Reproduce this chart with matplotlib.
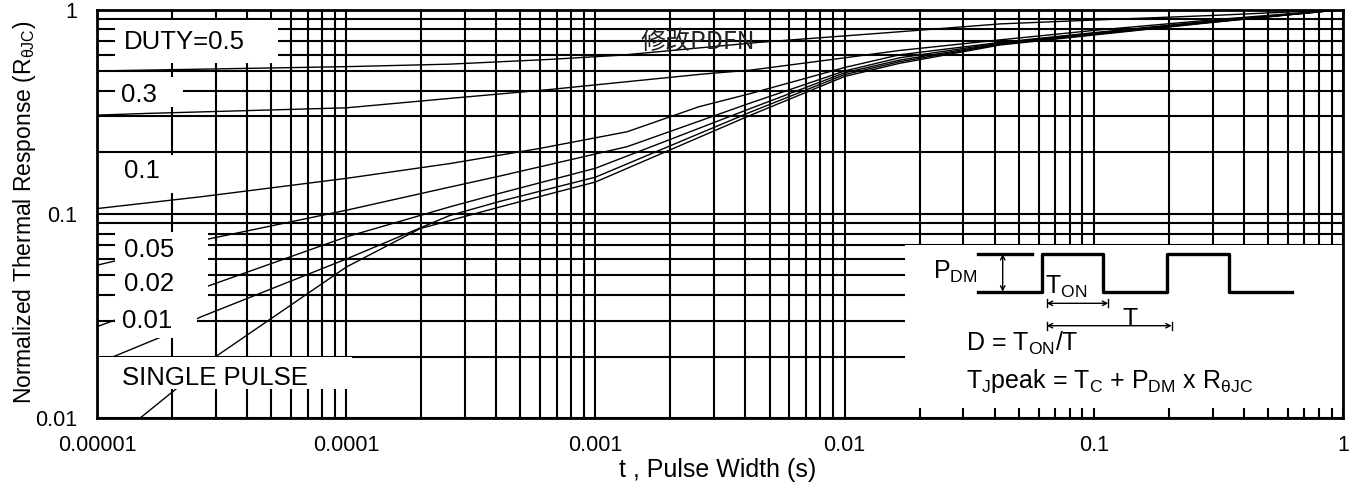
import matplotlib
matplotlib.use("Agg")
import matplotlib.pyplot as plt
from matplotlib.patches import Rectangle
from matplotlib.ticker import LogLocator, FixedLocator, NullFormatter
from matplotlib.transforms import Affine2D

plt.rcParams['font.family'] = ['Liberation Sans', 'DejaVu Sans']
plt.rcParams['mathtext.fontset'] = 'custom'
plt.rcParams['mathtext.rm'] = 'Liberation Sans'

# curves: (pulse width s, normalized response)
t_d50 = [1e-5, 1e-4, 2.6e-4, 6.6e-4, 1.28e-3, 4.5e-3, 1.66e-2, 4.2e-2, 0.1, 0.3, 1.0]
r_d50 = [0.50, 0.525, 0.54, 0.57, 0.598, 0.69, 0.778, 0.85, 0.888, 0.935, 1.0]

t_d30 = [1e-5, 1.6e-5, 1e-4, 2.6e-4, 6.6e-4, 1.66e-3, 2.7e-3, 4.2e-3, 1e-2, 1.66e-2, 4.2e-2, 0.1, 0.3, 1.0]
r_d30 = [0.304, 0.31, 0.33, 0.367, 0.406, 0.455, 0.483, 0.505, 0.58, 0.63, 0.71, 0.79, 0.89, 1.0]

t_d10 = [1e-5, 2.6e-5, 1e-4, 2.6e-4, 6e-4, 1.34e-3, 2.6e-3, 4.2e-3, 1e-2, 1.66e-2, 4.2e-2, 0.1, 0.3, 1.0]
r_d10 = [0.106, 0.121, 0.149, 0.176, 0.209, 0.252, 0.334, 0.388, 0.52, 0.60, 0.69, 0.77, 0.88, 1.0]

t_d05 = [1e-5, 2.84e-5, 1e-4, 2.6e-4, 4.14e-4, 1.34e-3, 4.2e-3, 1e-2, 1.66e-2, 4.2e-2, 0.1, 0.3, 1.0]
r_d05 = [0.056, 0.0755, 0.104, 0.135, 0.153, 0.213, 0.349, 0.50, 0.58, 0.685, 0.765, 0.875, 1.0]

t_d02 = [1e-5, 2.84e-5, 1e-4, 2.6e-4, 4.14e-4, 1e-3, 4.2e-3, 1e-2, 1.66e-2, 4.2e-2, 0.1, 0.3, 1.0]
r_d02 = [0.028, 0.0446, 0.077, 0.108, 0.126, 0.167, 0.328, 0.49, 0.565, 0.68, 0.76, 0.87, 1.0]

t_d01 = [1e-5, 1.79e-5, 2.6e-5, 1e-4, 2.6e-4, 4.14e-4, 1e-3, 4.2e-3, 1e-2, 1.66e-2, 4.2e-2, 0.1, 0.3, 1.0]
r_d01 = [0.0185, 0.0248, 0.0312, 0.060, 0.098, 0.115, 0.151, 0.315, 0.48, 0.555, 0.675, 0.755, 0.868, 1.0]

t_single = [1.49e-5, 2.02e-5, 2.98e-5, 1e-4, 1.98e-4, 4.14e-4, 1e-3, 4.2e-3, 1e-2, 1.66e-2, 4.2e-2, 0.1, 0.3, 1.0]
r_single = [0.01, 0.0135, 0.0199, 0.0548, 0.0846, 0.108, 0.143, 0.304, 0.47, 0.545, 0.67, 0.75, 0.865, 1.0]

curves = [(t_d50, r_d50), (t_d30, r_d30), (t_d10, r_d10), (t_d05, r_d05),
          (t_d02, r_d02), (t_d01, r_d01), (t_single, r_single)]

x_ticks = [1e-5, 1e-4, 1e-3, 1e-2, 1e-1, 1]
x_ticklabels = ['0.00001', '0.0001', '0.001', '0.01', '0.1', '1']
y_ticks = [0.01, 0.1, 1]
y_ticklabels = ['0.01', '0.1', '1']

duty_labels = ['DUTY=0.5', '0.3', '0.1', '0.05', '0.02', '0.01', 'SINGLE PULSE']

W, H = 1366, 493
fig = plt.figure(figsize=(W / 100, H / 100), dpi=100)
ax = fig.add_axes([97 / W, 1 - 418 / H, 1246 / W, 408.5 / H])
# reference-pixel coordinates (origin top left)
px = Affine2D().scale(1 / W, -1 / H).translate(0, 1) + fig.transFigure

ax.set_xscale('log')
ax.set_yscale('log')
ax.set_xlim(1e-5, 1)
ax.set_ylim(0.01, 1)

for t, r in curves:
    ax.plot(t, r, color='black', lw=1.0, zorder=2)

ax.xaxis.set_major_locator(FixedLocator(x_ticks))
ax.set_xticklabels(x_ticklabels)
ax.yaxis.set_major_locator(FixedLocator(y_ticks))
ax.set_yticklabels(y_ticklabels)
ax.xaxis.set_minor_locator(LogLocator(base=10, subs=range(2, 10)))
ax.yaxis.set_minor_locator(LogLocator(base=10, subs=range(2, 10)))
ax.xaxis.set_minor_formatter(NullFormatter())
ax.yaxis.set_minor_formatter(NullFormatter())
ax.tick_params(which='both', length=0, labelsize=15.5)
ax.tick_params(axis='x', pad=12)
ax.tick_params(axis='y', pad=14)
ax.grid(True, which='both', color='black', lw=1.5, zorder=1)
for s in ax.spines.values():
    s.set_linewidth(2)
    s.set_zorder(4)

ax.set_xlabel('t , Pulse Width (s)', fontsize=18)
ax.xaxis.set_label_coords(718, 470, transform=px)
ax.xaxis.label.set_va('center')
ax.set_ylabel('Normalized Thermal Response (R$_\\mathregular{θJC}$)', fontsize=16.5)
ax.yaxis.set_label_coords(25, 212, transform=px)
ax.yaxis.label.set_va('center')

# white boxes behind the duty labels (x0, y0, x1, y1 in px)
boxes = [(115, 20, 278, 63), (115, 77, 183, 107), (115, 155, 213, 193),
         (115, 232, 208, 300), (115, 300, 197, 338), (97, 357, 352, 389),
         (905, 245, 1343, 408)]
for x0, y0, x1, y1 in boxes:
    ax.add_patch(Rectangle((x0, y0), x1 - x0, y1 - y0, transform=px,
                           facecolor='white', edgecolor='none', zorder=3))

label_pos = [(124, 42), (121, 95), (124, 171), (124, 250), (124, 284), (122, 321), (122, 378)]
for txt, (x, y) in zip(duty_labels, label_pos):
    ax.text(x, y, txt, transform=px, fontsize=18.5, ha='left', va='center', zorder=5)

ax.text(640, 42, '修改PDFN', transform=px, fontsize=18, ha='left', va='center',
        family=['Noto Sans CJK SC', 'DejaVu Sans'], color='#222222', zorder=5)

# inset: pulse train sketch
wave_x = [978, 1041.7, 1041.7, 1103.3, 1103.3, 1167.3, 1167.3, 1229.3, 1229.3, 1291.7]
wave_y = [291.7, 291.7, 254, 254, 291.7, 291.7, 254, 254, 291.7, 291.7]
ax.plot(wave_x, wave_y, transform=px, color='black', lw=2.4, zorder=5, clip_on=False)
ax.plot([978, 1032], [254, 254], transform=px, color='black', lw=2.4, zorder=5, clip_on=False)

arrow = dict(arrowstyle='<->', color='black', lw=1.0, shrinkA=0, shrinkB=0,
             mutation_scale=8)
ax.annotate('', xy=(1002.7, 254), xytext=(1002.7, 291.7), xycoords=px, textcoords=px,
            arrowprops=arrow, zorder=5)
for y, x0, x1 in [(303.3, 1046.7, 1108.3), (325.7, 1046.7, 1171.7)]:
    ax.annotate('', xy=(x0, y), xytext=(x1, y), xycoords=px, textcoords=px,
                arrowprops=arrow, zorder=5)
    for xe in (x0, x1):
        ax.plot([xe, xe], [y - 4, y + 4], transform=px, color='black', lw=1.0,
                zorder=5, clip_on=False)

fs_in = 18
ax.text(933, 279, 'P$_\\mathregular{DM}$', transform=px, fontsize=fs_in, va='baseline', zorder=5)
ax.text(1045, 294, 'T$_\\mathregular{ON}$', transform=px, fontsize=fs_in, va='baseline', zorder=5)
ax.text(1130, 326, 'T', transform=px, fontsize=fs_in, ha='center', va='baseline', zorder=5)
ax.text(966, 351, 'D = T$_\\mathregular{ON}$/T', transform=px, fontsize=fs_in, va='baseline', zorder=5)
ax.text(966, 388, 'T$_\\mathregular{J}$peak = T$_\\mathregular{C}$ + P$_\\mathregular{DM}$ x R$_\\mathregular{θJC}$',
        transform=px, fontsize=fs_in, va='baseline', zorder=5)

fig.savefig('out.png', dpi=100)
